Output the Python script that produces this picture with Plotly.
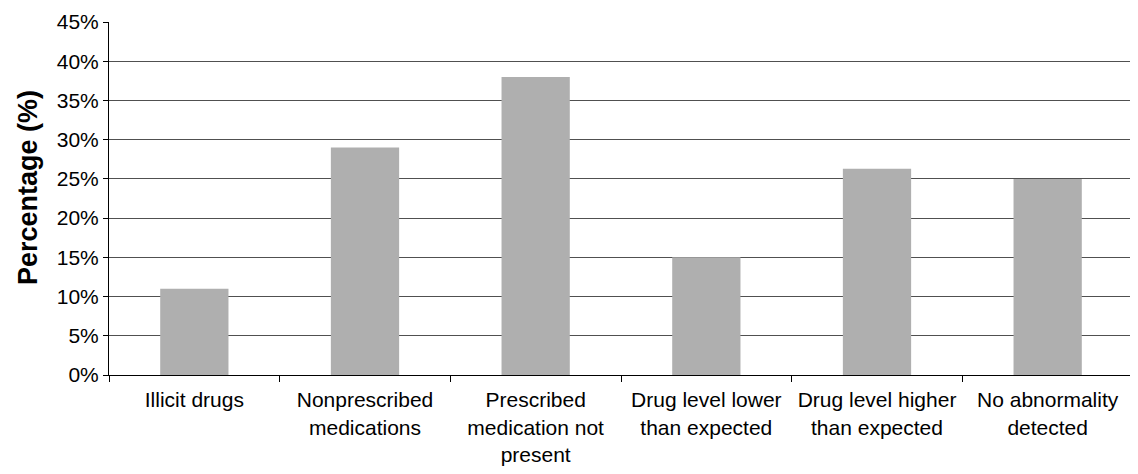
import plotly.graph_objects as go

categories = [
    "Illicit drugs",
    "Nonprescribed<br>medications",
    "Prescribed<br>medication not<br>present",
    "Drug level lower<br>than expected",
    "Drug level higher<br>than expected",
    "No abnormality<br>detected",
]
values = [11, 29, 38, 15, 26.3, 25]
y_ticks = [0, 5, 10, 15, 20, 25, 30, 35, 40, 45]
y_tick_labels = [f"{v}%" for v in y_ticks]
y_title = "Percentage (%)"

fig = go.Figure(
    go.Bar(
        x=categories,
        y=values,
        width=0.4,
        marker=dict(color="#afafaf", line=dict(width=0)),
    )
)

font = "Liberation Sans, Arial, sans-serif"
# page body has an 8px default margin, so the figure is offset by 8px
fig.update_layout(
    width=1130,
    height=466,
    margin=dict(l=101, r=5, t=14, b=99),
    paper_bgcolor="white",
    plot_bgcolor="white",
    showlegend=False,
    font=dict(family=font, size=21, color="black"),
    annotations=[
        dict(
            text=f"<b>{y_title}</b>",
            textangle=-90,
            xref="paper",
            yref="paper",
            x=-0.079,
            y=0.53,
            xanchor="center",
            yanchor="middle",
            showarrow=False,
            font=dict(size=27, family=font, color="black"),
        )
    ],
)
fig.update_xaxes(
    automargin=False,
    showline=True,
    linecolor="black",
    linewidth=1,
    ticks="outside",
    tickson="boundaries",
    ticklen=6,
    tickcolor="black",
    showgrid=False,
    tickfont=dict(size=21),
    ticklabelstandoff=6,
)
fig.update_yaxes(
    automargin=False,
    range=[0, 45],
    tickvals=y_ticks,
    ticktext=y_tick_labels,
    showline=True,
    linecolor="black",
    linewidth=1,
    ticks="outside",
    ticklen=5,
    tickcolor="black",
    showgrid=True,
    gridcolor="#505050",
    gridwidth=1,
    zeroline=False,
    tickfont=dict(size=21),
)
fig.write_html("out.html")
